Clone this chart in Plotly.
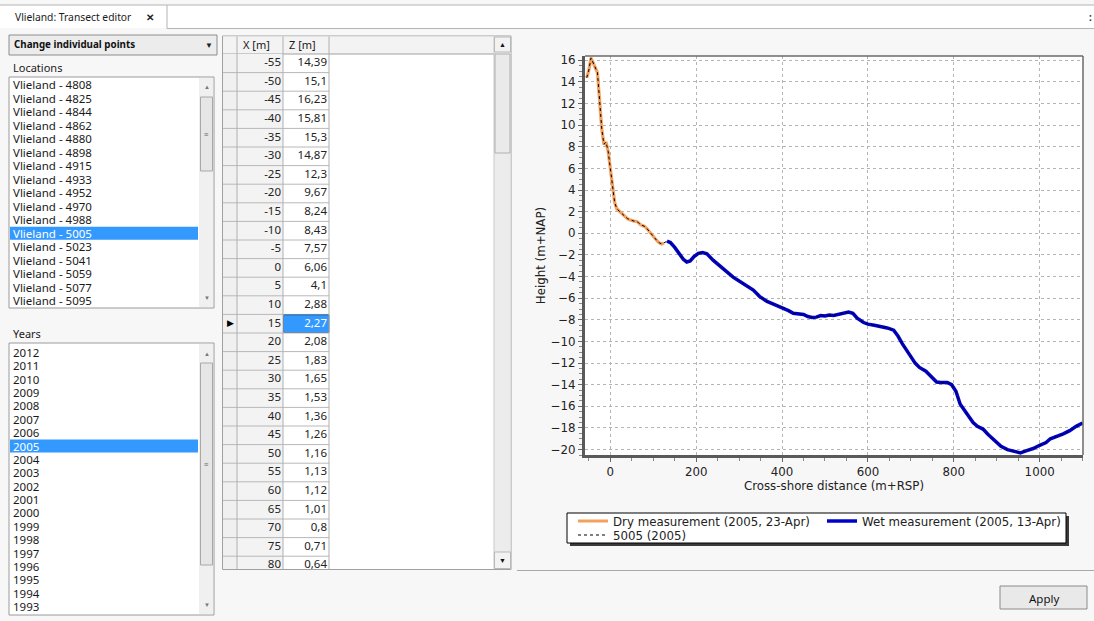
import plotly.graph_objects as go

W, H = 1094, 621

# ---------------- data ----------------
location_names = ["Vlieland - 4808", "Vlieland - 4825", "Vlieland - 4844", "Vlieland - 4862",
                  "Vlieland - 4880", "Vlieland - 4898", "Vlieland - 4915", "Vlieland - 4933",
                  "Vlieland - 4952", "Vlieland - 4970", "Vlieland - 4988", "Vlieland - 5005",
                  "Vlieland - 5023", "Vlieland - 5041", "Vlieland - 5059", "Vlieland - 5077",
                  "Vlieland - 5095"]
selected_location = "Vlieland - 5005"
years = ["2012", "2011", "2010", "2009", "2008", "2007", "2006", "2005", "2004", "2003",
         "2002", "2001", "2000", "1999", "1998", "1997", "1996", "1995", "1994", "1993"]
selected_year = "2005"

table_x = [-55, -50, -45, -40, -35, -30, -25, -20, -15, -10, -5, 0, 5, 10, 15, 20,
           25, 30, 35, 40, 45, 50, 55, 60, 65, 70, 75, 80]
table_z = [14.39, 15.1, 16.23, 15.81, 15.3, 14.87, 12.3, 9.67, 8.24, 8.43, 7.57, 6.06,
           4.1, 2.88, 2.27, 2.08, 1.83, 1.65, 1.53, 1.36, 1.26, 1.16, 1.13, 1.12, 1.01,
           0.8, 0.71, 0.64]
selected_row_x = 15

dry_extra_x = [85, 90, 95, 100, 105, 110, 115, 120, 125]
dry_extra_z = [0.45, 0.2, -0.05, -0.3, -0.55, -0.75, -0.9, -0.98, -0.88]

wet_x = [132, 140, 150, 160, 170, 178, 186, 195, 205, 215, 225, 240, 255, 270, 286, 300,
         315, 333, 348, 365, 380, 395, 405, 415, 426, 440, 450, 460, 470, 480, 490, 500,
         510, 520, 530, 545, 555, 565, 575, 590, 600, 615, 630, 645, 660, 670, 680, 690,
         700, 710, 720, 735, 750, 760, 770, 785, 795, 805, 815, 830, 845, 855, 868, 880,
         895, 910, 925, 940, 955, 970, 985, 1000, 1015, 1025, 1040, 1055, 1070, 1085, 1100]
wet_z = [-0.72, -0.85, -1.3, -1.9, -2.4, -2.65, -2.55, -2.15, -1.85, -1.78, -1.9, -2.5,
         -3.0, -3.55, -4.05, -4.4, -4.8, -5.25, -5.85, -6.3, -6.55, -6.8, -6.9, -7.15,
         -7.4, -7.45, -7.5, -7.7, -7.78, -7.75, -7.6, -7.65, -7.55, -7.6, -7.5, -7.35,
         -7.28, -7.4, -7.85, -8.25, -8.4, -8.5, -8.62, -8.75, -8.95, -9.5, -10.2, -10.75,
         -11.4, -12.0, -12.4, -12.75, -13.3, -13.75, -13.8, -13.8, -14.0, -14.6, -15.8,
         -16.6, -17.5, -17.85, -18.1, -18.6, -19.2, -19.7, -20.0, -20.15, -20.3, -20.1,
         -19.9, -19.6, -19.35, -19.0, -18.8, -18.55, -18.25, -17.85, -17.55]

x_tick_vals = [0, 200, 400, 600, 800, 1000]
y_tick_vals = [-20, -18, -16, -14, -12, -10, -8, -6, -4, -2, 0, 2, 4, 6, 8, 10, 12, 14, 16]

dry_name = "Dry measurement (2005, 23-Apr)"
wet_name = "Wet measurement (2005, 13-Apr)"
combined_name = "5005 (2005)"

dry_x = table_x + dry_extra_x
dry_z = table_z + dry_extra_z
combined_x = dry_x + wet_x
combined_z = dry_z + wet_z

# ---------------- helpers ----------------
GUI_FONT = "Noto Sans"
CHART_FONT = "DejaVu Sans"
shapes = []
annotations = []


def fx(x):
    return x / W


def fy(y):
    return 1 - y / H


def rect(x0, y0, x1, y1, fill=None, line=None, lw=1, layer="below", ref=None):
    d = dict(type="rect", fillcolor=fill or "rgba(0,0,0,0)",
             line=dict(color=line or "rgba(0,0,0,0)", width=lw if line else 0), layer=layer)
    if ref:
        d.update(xref=ref[0], yref=ref[1], x0=x0, x1=x1, y0=y0, y1=y1)
    else:
        d.update(xref="paper", yref="paper", x0=fx(x0), x1=fx(x1), y0=fy(y1), y1=fy(y0))
    shapes.append(d)


def hline(x0, x1, y, color, lw=1, ref=None, layer="below"):
    d = dict(type="line", line=dict(color=color, width=lw), layer=layer)
    if ref:
        d.update(xref=ref[0], yref=ref[1], x0=x0, x1=x1, y0=y, y1=y)
    else:
        d.update(xref="paper", yref="paper", x0=fx(x0), x1=fx(x1), y0=fy(y), y1=fy(y))
    shapes.append(d)


def vline(x, y0, y1, color, lw=1, ref=None, layer="below"):
    d = dict(type="line", line=dict(color=color, width=lw), layer=layer)
    if ref:
        d.update(xref=ref[0], yref=ref[1], x0=x, x1=x, y0=y0, y1=y1)
    else:
        d.update(xref="paper", yref="paper", x0=fx(x), x1=fx(x), y0=fy(y0), y1=fy(y1))
    shapes.append(d)


def text(x, y, s, size=11.5, color="#1a1a1a", anchor="left", family=GUI_FONT):
    annotations.append(dict(x=fx(x), y=fy(y), xref="paper", yref="paper", text=s,
                            showarrow=False, xanchor=anchor, yanchor="middle",
                            font=dict(family=family, size=size, color=color)))


# ---------------- GUI chrome ----------------
# tab strip
rect(0, 5, W, 28, fill="white")
hline(0, W, 5, "#b4b4b4")
hline(167, W, 28.5, "#b4b4b4")
vline(167, 5, 28.5, "#b4b4b4")
text(13, 16.5, "Vlieland: Transect editor", size=10.3)
text(150, 16.5, "<b>✕</b>", size=10, anchor="center", color="#222")
text(1090, 17, "<b>:</b>", size=10, anchor="center", color="#333")

# dropdown
rect(9, 35, 217, 55, fill="#ececec", line="#8c8c8c")
text(12, 45, "<b>Change individual points</b>", size=9.8, color="#111")
text(209, 45, "▼", size=8, anchor="center", color="#222")

# locations list
text(11, 67, "Locations", size=11)
rect(9, 77, 214, 308, fill="white", line="#9a9a9a")
rect(199, 78, 213, 307, fill="#f0f0f0")
rect(200.5, 97, 212.5, 171, fill="#e6e6e6", line="#a8a8a8")
text(206.5, 134, "≡", size=8, anchor="center", color="#666")
text(206.5, 87.5, "▲", size=6, anchor="center", color="#777")
text(206.5, 297.5, "▼", size=6, anchor="center", color="#777")
for i, name in enumerate(location_names):
    yc = 85 + i * 13.48
    if name == selected_location:
        rect(10, yc - 6.5, 198, yc + 6.5, fill="#3399ff")
        text(11, yc, name, color="white")
    else:
        text(11, yc, name)

# years list
text(11, 333, "Years", size=11)
rect(9, 343, 214, 615, fill="white", line="#9a9a9a")
rect(199, 344, 213, 614, fill="#f0f0f0")
rect(200.5, 363, 212.5, 565, fill="#e6e6e6", line="#a8a8a8")
text(206.5, 463, "≡", size=8, anchor="center", color="#666")
text(206.5, 353.5, "▲", size=6, anchor="center", color="#777")
text(206.5, 605, "▼", size=6, anchor="center", color="#777")
for i, yr in enumerate(years):
    yc = 352.3 + i * 13.39
    if yr == selected_year:
        rect(10, yc - 6.5, 198, yc + 6.5, fill="#3399ff")
        text(11, yc, yr, color="white")
    else:
        text(11, yc, yr)

# table frame and header
rect(222.5, 36, 511, 569.5, fill="white", line="#a0a0a0")
rect(223, 36.5, 494, 54, fill="#f3f3f3")
hline(223, 494, 54, "#a0a0a0")
for xv in (237, 283, 329):
    vline(xv, 36.5, 54, "#b0b0b0")
text(240.5, 45, "X [m]", size=11)
text(287, 45, "Z [m]", size=11)
# table scrollbar
rect(494, 36.5, 510.5, 569, fill="#ececec")
vline(494, 36.5, 569, "#c8c8c8")
rect(494.5, 37, 510.5, 52, fill="#f2f2f2", line="#b8b8b8")
text(502.5, 44.5, "▲", size=7, anchor="center", color="#111")
rect(495, 54, 510, 153, fill="#eaeaea", line="#b0b0b0")
rect(494.5, 552, 510.5, 568.5, fill="#f2f2f2", line="#b8b8b8")
text(502.5, 560, "▼", size=7, anchor="center", color="#111")

# chart panel separator + Apply button
hline(517, W, 570.5, "#a8a8a8")
rect(1000, 586, 1087, 609, fill="#e9e9e9", line="#8a8a8a")
text(1043.5, 598, "Apply", size=11.5, anchor="center", color="#111")

# ---------------- table body (subplot x2/y2, pixel units) ----------------
ROW_TOP, ROW_H = 54, 18.6
TB = ("x2", "y2")
rect(223, 54, 237, 569.5, fill="#f0f0f0", ref=TB)
rect(237, 54, 283, 569.5, fill="#f3f3f3", ref=TB)
row_centers = []
for i, xv in enumerate(table_x):
    top = ROW_TOP + i * ROW_H
    row_centers.append(top + ROW_H / 2)
    if xv == selected_row_x:
        rect(283.5, top + 0.5, 329, top + ROW_H - 0.5, fill="#3399ff", line="#1e5fa8",
             lw=1, ref=TB)
    hline(223, 329, top + ROW_H, "#b8b8b8", ref=TB)
for xv in (237, 283, 329):
    vline(xv, 54, 570, "#b0b0b0", ref=TB)

sel_i = table_x.index(selected_row_x)
z_colors = ["white" if i == sel_i else "#222" for i in range(len(table_z))]

fig = go.Figure()

fig.add_trace(go.Scatter(
    x=[281] * len(table_x), y=row_centers, text=[str(v) for v in table_x],
    mode="text", textposition="middle left", xaxis="x2", yaxis="y2",
    textfont=dict(family=GUI_FONT, size=11.5, color="#222"),
    showlegend=False, hoverinfo="skip", cliponaxis=True))
fig.add_trace(go.Scatter(
    x=[327] * len(table_z), y=row_centers, text=[str(v).replace(".", ",") for v in table_z],
    mode="text", textposition="middle left", xaxis="x2", yaxis="y2",
    textfont=dict(family=GUI_FONT, size=11.5, color=z_colors),
    showlegend=False, hoverinfo="skip", cliponaxis=True))
fig.add_trace(go.Scatter(
    x=[230], y=[row_centers[sel_i]], text=["▶"], mode="text", textposition="middle center",
    xaxis="x2", yaxis="y2", textfont=dict(size=9, color="black"),
    showlegend=False, hoverinfo="skip"))

# ---------------- chart traces ----------------
fig.add_trace(go.Scatter(x=dry_x, y=dry_z, mode="lines", name=dry_name, legend="legend",
                         line=dict(color="#f4a15d", width=3.2)))
fig.add_trace(go.Scatter(x=wet_x, y=wet_z, mode="lines", name=wet_name, legend="legend",
                         line=dict(color="#0000cc", width=3.5)))
fig.add_trace(go.Scatter(x=combined_x, y=combined_z, mode="lines", name=combined_name,
                         legend="legend2", line=dict(color="black", width=1, dash="dot")))

# chart frame top/right (thin)
shapes.append(dict(type="line", xref="x domain", yref="y domain", x0=0, x1=1, y0=1, y1=1,
                   line=dict(color="#6a6a6a", width=1.5), layer="above"))
shapes.append(dict(type="line", xref="x domain", yref="y domain", x0=1, x1=1, y0=0, y1=1,
                   line=dict(color="#6a6a6a", width=1.5), layer="above"))

# legend box with shadow
rect(570, 516, 1069, 546, fill="#3a3a3a")
rect(567, 513, 1066, 543, fill="white", line="black", lw=1)

CF = 11.8
axis_font = dict(family=CHART_FONT, size=CF, color="#222")
leg_font = dict(family=CHART_FONT, size=CF, color="#222")
fig.update_layout(
    width=W, height=H, autosize=False,
    margin=dict(l=0, r=0, t=0, b=0, pad=0, autoexpand=False),
    paper_bgcolor="#f7f7f7", plot_bgcolor="white",
    shapes=shapes, annotations=annotations,
    showlegend=True,
    legend=dict(x=fx(573), y=fy(506.5), xanchor="left", yanchor="top",
                orientation="h", bgcolor="rgba(0,0,0,0)", borderwidth=0,
                font=leg_font, itemwidth=30, tracegroupgap=0,
                entrywidth=204, entrywidthmode="pixels"),
    legend2=dict(x=fx(573), y=fy(520.5), xanchor="left", yanchor="top",
                 orientation="h", bgcolor="rgba(0,0,0,0)", borderwidth=0,
                 font=leg_font, itemwidth=30, tracegroupgap=0),
    xaxis=dict(domain=[fx(585), fx(1083)], range=[-59, 1101], tickvals=x_tick_vals,
               ticks="outside", ticklen=4, tickcolor="#666", tickfont=axis_font,
               showgrid=True, gridcolor="#b4b4b4", griddash="dot", gridwidth=1,
               zeroline=False, showline=True, linewidth=3, linecolor="#5a5a5a",
               minor=dict(dtick=50, ticks="outside", ticklen=3, tickcolor="#888",
                          showgrid=False),
               title=dict(text="Cross-shore distance (m+RSP)", font=axis_font, standoff=3),
               anchor="y"),
    yaxis=dict(domain=[fy(455), fy(56)], range=[-20.5, 16.4], tickvals=y_tick_vals,
               ticks="outside", ticklen=4, tickcolor="#666", tickfont=axis_font,
               showgrid=True, gridcolor="#b4b4b4", griddash="dot", gridwidth=1,
               zeroline=False, showline=True, linewidth=3, linecolor="#5a5a5a",
               minor=dict(dtick=0.5, ticks="outside", ticklen=3, tickcolor="#888",
                          showgrid=False),
               title=dict(text="Height (m+NAP)", font=axis_font, standoff=3),
               anchor="x"),
    xaxis2=dict(domain=[fx(223), fx(494)], range=[223, 494], visible=False,
                anchor="y2", fixedrange=True),
    yaxis2=dict(domain=[fy(569), fy(54)], range=[569, 54], visible=False,
                anchor="x2", fixedrange=True),
)

fig.write_html("out.html", config={"displayModeBar": False},
               post_script="document.body.style.margin='0';document.body.style.overflow='hidden';")
